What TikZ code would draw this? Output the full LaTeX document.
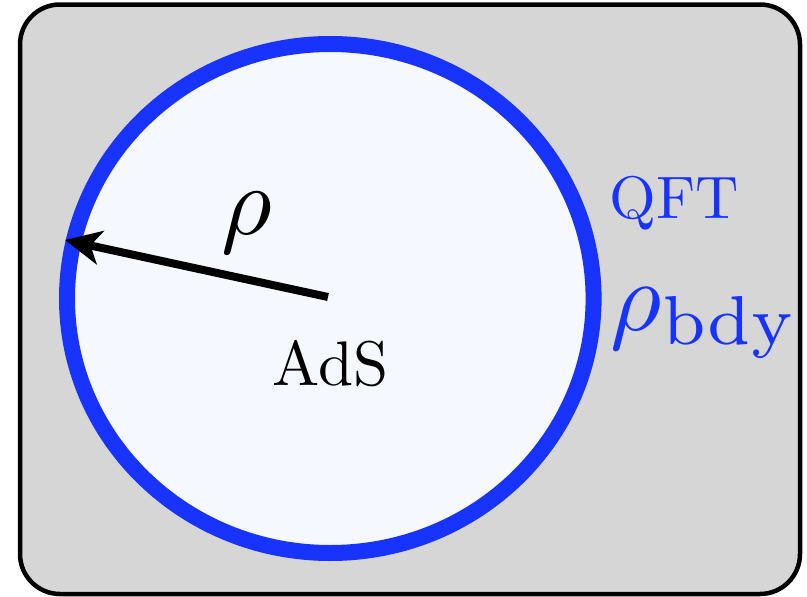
\documentclass[tikz,border=0pt]{standalone}
\usetikzlibrary{arrows.meta}
\definecolor{bgray}{RGB}{214,214,214}
\definecolor{ads}{RGB}{245,248,255}
\definecolor{bblue}{RGB}{25,51,255}
\tikzset{
  frame/.style={draw=black, line width=4.5pt, fill=bgray, rounded corners=40pt},
  bdy/.style={draw=bblue, line width=16pt, fill=ads},
  radius arrow/.style={line width=8pt, -{Stealth[length=36pt,width=34pt,inset=10pt]}},
  lbl/.style={inner sep=0pt, anchor=base}
}
\begin{document}
\begin{tikzpicture}[x=1pt,y=-1pt]
\useasboundingbox (0,0) rectangle (807,597);
\draw[frame] (20,4.5) rectangle (800,594);
\draw[bdy] (330.3,298.5) ellipse [x radius=263.3, y radius=254.5];
\coordinate (c) at (328,297);
\coordinate (tip) at (65,240);
\draw[radius arrow] (c) -- (tip);
\node[lbl, scale=9.8] (rho) at (247,234) {$\rho$};
\node[lbl, scale=6.3] (ads) at (330.5,385) {AdS};
\node[lbl, scale=6.0, text=bblue] (qft) at (674,218) {QFT};
\node[lbl, scale=9.9, text=bblue] (rhob) at (705,330) {$\rho_{\mathrm{bdy}}$};
\end{tikzpicture}
\end{document}
